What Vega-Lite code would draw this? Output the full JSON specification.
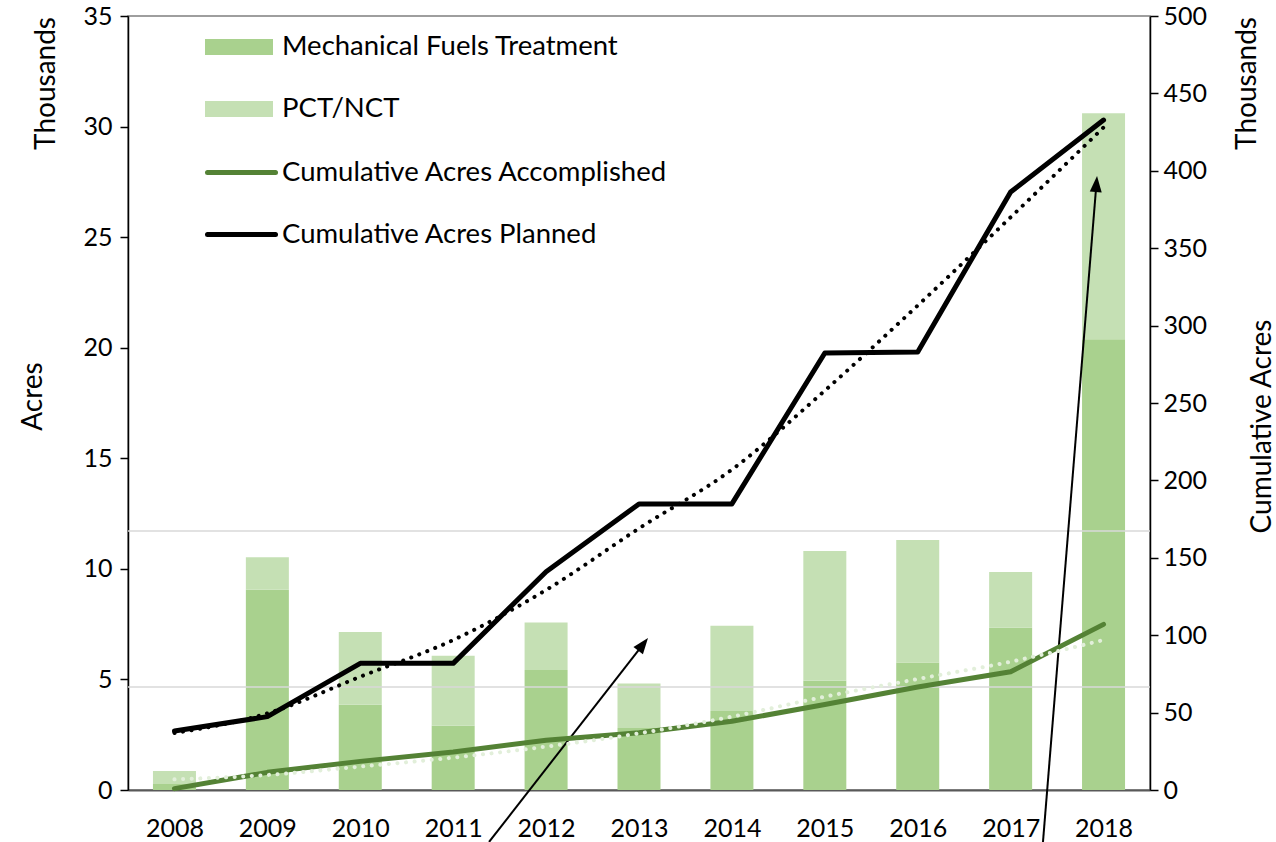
{
  "$schema": "https://vega.github.io/schema/vega-lite/v6.json",
  "width": 1022,
  "height": 774,
  "autosize": {"type": "none"},
  "padding": {"left": 128, "top": 16, "right": 126, "bottom": 52},
  "background": "white",
  "config": {
    "view": {"stroke": "#7f7f7f", "strokeWidth": 1.5},
    "font": "Lato",
    "axis": {"labelFont": "Lato", "titleFont": "Lato", "labelColor": "#000000", "titleColor": "#000000", "labelFontSize": 25, "titleFontSize": 28, "titleFontWeight": "normal", "grid": false},
    "legend": {"labelFont": "Lato", "labelFontSize": 27.5, "labelColor": "#000000", "labelLimit": 600},
    "text": {"font": "Lato", "fontSize": 28, "color": "#000000"}
  },
  "datasets": {
    "bars": [
      {"year": 2008, "type": "Mechanical Fuels Treatment", "acres": 0.27},
      {"year": 2008, "type": "PCT/NCT", "acres": 0.59},
      {"year": 2009, "type": "Mechanical Fuels Treatment", "acres": 9.06},
      {"year": 2009, "type": "PCT/NCT", "acres": 1.46},
      {"year": 2010, "type": "Mechanical Fuels Treatment", "acres": 3.86},
      {"year": 2010, "type": "PCT/NCT", "acres": 3.29},
      {"year": 2011, "type": "Mechanical Fuels Treatment", "acres": 2.91},
      {"year": 2011, "type": "PCT/NCT", "acres": 3.16},
      {"year": 2012, "type": "Mechanical Fuels Treatment", "acres": 5.43},
      {"year": 2012, "type": "PCT/NCT", "acres": 2.14},
      {"year": 2013, "type": "Mechanical Fuels Treatment", "acres": 2.8},
      {"year": 2013, "type": "PCT/NCT", "acres": 2.02},
      {"year": 2014, "type": "Mechanical Fuels Treatment", "acres": 3.57},
      {"year": 2014, "type": "PCT/NCT", "acres": 3.86},
      {"year": 2015, "type": "Mechanical Fuels Treatment", "acres": 4.94},
      {"year": 2015, "type": "PCT/NCT", "acres": 5.87},
      {"year": 2016, "type": "Mechanical Fuels Treatment", "acres": 5.76},
      {"year": 2016, "type": "PCT/NCT", "acres": 5.55},
      {"year": 2017, "type": "Mechanical Fuels Treatment", "acres": 7.34},
      {"year": 2017, "type": "PCT/NCT", "acres": 2.52},
      {"year": 2018, "type": "Mechanical Fuels Treatment", "acres": 20.38},
      {"year": 2018, "type": "PCT/NCT", "acres": 10.22}
    ],
    "cum": [
      {"year": 2008, "series": "Cumulative Acres Accomplished", "value": 0.9},
      {"year": 2009, "series": "Cumulative Acres Accomplished", "value": 11.4},
      {"year": 2010, "series": "Cumulative Acres Accomplished", "value": 18.5},
      {"year": 2011, "series": "Cumulative Acres Accomplished", "value": 24.6},
      {"year": 2012, "series": "Cumulative Acres Accomplished", "value": 32.2},
      {"year": 2013, "series": "Cumulative Acres Accomplished", "value": 37.0},
      {"year": 2014, "series": "Cumulative Acres Accomplished", "value": 44.4},
      {"year": 2015, "series": "Cumulative Acres Accomplished", "value": 55.2},
      {"year": 2016, "series": "Cumulative Acres Accomplished", "value": 66.5},
      {"year": 2017, "series": "Cumulative Acres Accomplished", "value": 76.4},
      {"year": 2018, "series": "Cumulative Acres Accomplished", "value": 107.0},
      {"year": 2008, "series": "Cumulative Acres Planned", "value": 38.1},
      {"year": 2009, "series": "Cumulative Acres Planned", "value": 47.4},
      {"year": 2010, "series": "Cumulative Acres Planned", "value": 81.8},
      {"year": 2011, "series": "Cumulative Acres Planned", "value": 81.8},
      {"year": 2012, "series": "Cumulative Acres Planned", "value": 141.0},
      {"year": 2013, "series": "Cumulative Acres Planned", "value": 184.8},
      {"year": 2014, "series": "Cumulative Acres Planned", "value": 184.8},
      {"year": 2015, "series": "Cumulative Acres Planned", "value": 282.3},
      {"year": 2016, "series": "Cumulative Acres Planned", "value": 283.0},
      {"year": 2017, "series": "Cumulative Acres Planned", "value": 386.3},
      {"year": 2018, "series": "Cumulative Acres Planned", "value": 432.8}
    ],
    "trend": [
      {"year": 2008, "trend": "planned", "value": 36.8},
      {"year": 2009, "trend": "planned", "value": 49.5},
      {"year": 2010, "trend": "planned", "value": 73.2},
      {"year": 2011, "trend": "planned", "value": 96.9},
      {"year": 2012, "trend": "planned", "value": 129.2},
      {"year": 2013, "trend": "planned", "value": 169.0},
      {"year": 2014, "trend": "planned", "value": 207.0},
      {"year": 2015, "trend": "planned", "value": 258.0},
      {"year": 2016, "trend": "planned", "value": 313.0},
      {"year": 2017, "trend": "planned", "value": 370.0},
      {"year": 2018, "trend": "planned", "value": 428.0},
      {"year": 2008, "trend": "accomplished", "value": 6.9},
      {"year": 2009, "trend": "accomplished", "value": 9.7},
      {"year": 2010, "trend": "accomplished", "value": 15.1},
      {"year": 2011, "trend": "accomplished", "value": 20.9},
      {"year": 2012, "trend": "accomplished", "value": 28.0},
      {"year": 2013, "trend": "accomplished", "value": 36.6},
      {"year": 2014, "trend": "accomplished", "value": 47.4},
      {"year": 2015, "trend": "accomplished", "value": 60.3},
      {"year": 2016, "trend": "accomplished", "value": 71.7},
      {"year": 2017, "trend": "accomplished", "value": 82.9},
      {"year": 2018, "trend": "accomplished", "value": 96.9}
    ],
    "arrows": [
      {"id": 1, "x1": 2011.386, "y1": -2.35, "x2": 2013.044, "y2": 6.589},
      {"id": 2, "x1": 2017.348, "y1": -2.35, "x2": 2017.923, "y2": 27.40}
    ],
    "grid": [{"v": 11.71}, {"v": 4.66}]
  },
  "layer": [
    {
      "layer": [
        {
          "data": {"name": "bars"},
          "mark": {"type": "bar", "width": 43},
          "encoding": {
            "x": {
              "field": "year", "type": "quantitative",
              "scale": {"domain": [2007.5, 2018.5], "nice": false, "zero": false, "padding": 0},
              "axis": {"values": [2008, 2009, 2010, 2011, 2012, 2013, 2014, 2015, 2016, 2017, 2018], "format": "d", "ticks": false, "tickSize": 0, "labelPadding": 38, "labelBaseline": "middle", "domainColor": "#595959", "domainWidth": 2, "title": null, "labelFlush": false}
            },
            "y": {
              "field": "acres", "type": "quantitative", "stack": "zero",
              "scale": {"domain": [0, 35], "nice": false},
              "axis": {"values": [0, 5, 10, 15, 20, 25, 30, 35], "title": "Acres", "titleAngle": 270, "titleX": -95, "titleY": 380, "titleAlign": "center", "titleBaseline": "middle", "domainColor": "#000000", "domainWidth": 1.5, "tickColor": "#000000", "tickWidth": 1.5, "tickSize": 8, "labelPadding": 8}
            },
            "color": {
              "field": "type", "type": "nominal",
              "scale": {"domain": ["Mechanical Fuels Treatment", "PCT/NCT"], "range": ["#a9d18e", "#c5e0b4"]},
              "legend": {"orient": "none", "legendX": 77, "legendY": -3, "title": null, "padding": 0, "symbolType": "M-1,-0.235H1V0.235H-1Z", "symbolSize": 4624, "symbolStrokeWidth": 0, "symbolOpacity": 1, "labelOffset": 9, "rowPadding": 14}
            },
            "order": {"field": "type", "sort": "ascending"}
          }
        },
        {
          "data": {"name": "grid"},
          "mark": {"type": "rule", "color": "#d9d9d9", "strokeWidth": 1.5},
          "encoding": {"y": {"field": "v", "type": "quantitative"}}
        },
        {
          "data": {"name": "arrows"},
          "mark": {"type": "rule", "color": "#000000", "strokeWidth": 2},
          "encoding": {
            "x": {"field": "x1", "type": "quantitative"},
            "x2": {"field": "x2"},
            "y": {"field": "y1", "type": "quantitative"},
            "y2": {"field": "y2"}
          }
        },
        {
          "data": {"name": "arrows"},
          "transform": [{"filter": "datum.id == 1"}],
          "mark": {"type": "point", "shape": "M0,-1L0.75,1L-0.75,1Z", "size": 256, "filled": true, "color": "#000000", "opacity": 1, "angle": 37.9},
          "encoding": {
            "x": {"field": "x2", "type": "quantitative"},
            "y": {"field": "y2", "type": "quantitative"}
          }
        },
        {
          "data": {"name": "arrows"},
          "transform": [{"filter": "datum.id == 2"}],
          "mark": {"type": "point", "shape": "M0,-1L0.75,1L-0.75,1Z", "size": 256, "filled": true, "color": "#000000", "opacity": 1, "angle": 4.6},
          "encoding": {
            "x": {"field": "x2", "type": "quantitative"},
            "y": {"field": "y2", "type": "quantitative"}
          }
        },
        {
          "data": {"values": [{"t": "Thousands"}]},
          "mark": {"type": "text", "angle": 270, "align": "right", "baseline": "middle", "dx": -1, "dy": -81},
          "encoding": {
            "text": {"field": "t"},
            "x": {"datum": 2007.5, "type": "quantitative"},
            "y": {"datum": 35, "type": "quantitative"}
          }
        }
      ]
    },
    {
      "layer": [
        {
          "data": {"name": "cum"},
          "mark": {"type": "line", "strokeWidth": 5, "strokeCap": "round", "strokeJoin": "round"},
          "encoding": {
            "x": {"field": "year", "type": "quantitative"},
            "y": {
              "field": "value", "type": "quantitative",
              "scale": {"domain": [0, 500], "nice": false},
              "axis": {"orient": "right", "values": [0, 50, 100, 150, 200, 250, 300, 350, 400, 450, 500], "title": "Cumulative Acres", "titleAngle": 270, "titleX": 112, "titleY": 410, "titleAlign": "center", "titleBaseline": "middle", "domainColor": "#000000", "domainWidth": 1.5, "tickColor": "#000000", "tickWidth": 1.5, "tickSize": 8, "labelPadding": 5}
            },
            "stroke": {
              "field": "series", "type": "nominal",
              "scale": {"domain": ["Cumulative Acres Accomplished", "Cumulative Acres Planned"], "range": ["#548235", "#000000"]},
              "legend": {"orient": "none", "legendX": 77, "legendY": 120, "title": null, "padding": 0, "symbolType": "stroke", "symbolSize": 4624, "symbolStrokeWidth": 5, "labelOffset": 4, "rowPadding": 12, "encode": {"symbols": {"update": {"strokeCap": {"value": "round"}}}}}
            }
          }
        },
        {
          "data": {"name": "trend"},
          "transform": [{"filter": "datum.trend == 'planned'"}],
          "mark": {"type": "line", "color": "#000000", "strokeWidth": 4, "strokeCap": "round", "strokeDash": [0.1, 8.5], "interpolate": "monotone"},
          "encoding": {
            "x": {"field": "year", "type": "quantitative"},
            "y": {"field": "value", "type": "quantitative"}
          }
        },
        {
          "data": {"name": "trend"},
          "transform": [{"filter": "datum.trend == 'accomplished'"}],
          "mark": {"type": "line", "color": "#e2efda", "strokeWidth": 4, "strokeCap": "round", "strokeDash": [0.1, 8.5], "interpolate": "monotone"},
          "encoding": {
            "x": {"field": "year", "type": "quantitative"},
            "y": {"field": "value", "type": "quantitative"}
          }
        },
        {
          "data": {"values": [{"t": "Thousands"}]},
          "mark": {"type": "text", "angle": 270, "align": "right", "baseline": "middle", "dx": -1, "dy": 98},
          "encoding": {
            "text": {"field": "t"},
            "x": {"datum": 2018.5, "type": "quantitative"},
            "y": {"datum": 500, "type": "quantitative"}
          }
        }
      ]
    }
  ],
  "resolve": {"scale": {"y": "independent"}}
}
